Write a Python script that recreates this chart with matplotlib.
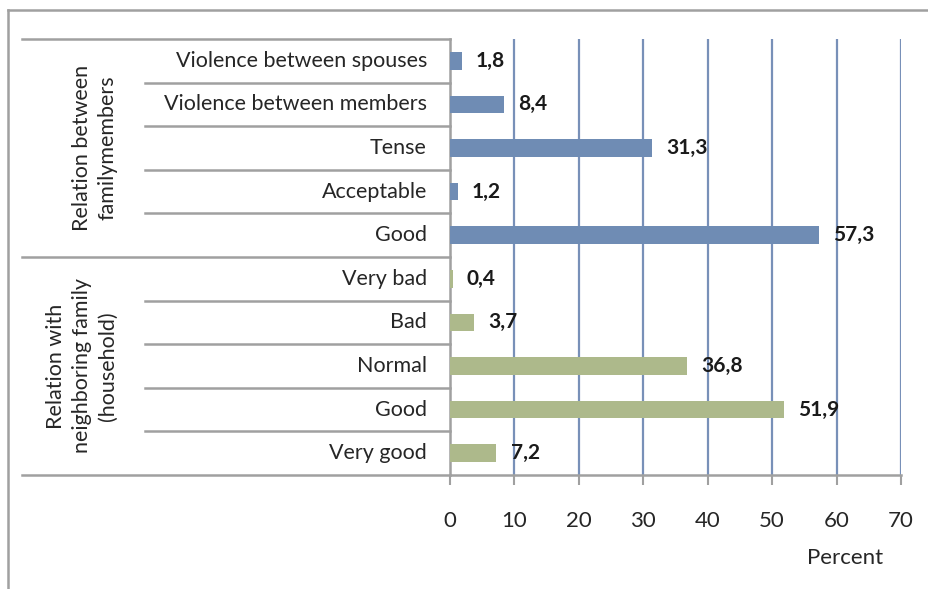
import matplotlib.pyplot as plt
from matplotlib.lines import Line2D

# data, top to bottom
labels = ["Violence between spouses", "Violence between members", "Tense",
          "Acceptable", "Good", "Very bad", "Bad", "Normal", "Good", "Very good"]
values = [1.8, 8.4, 31.3, 1.2, 57.3, 0.4, 3.7, 36.8, 51.9, 7.2]
groups = ["Relation between\nfamilymembers",
          "Relation with\nneighboring family\n(household)"]
group_sizes = [5, 5]
ticks = [0, 10, 20, 30, 40, 50, 60, 70]

blue = "#6f8cb4"
green = "#adb98b"
gray = "#a0a0a0"
colors = [blue] * group_sizes[0] + [green] * group_sizes[1]

plt.rcParams['font.family'] = ['Lato', 'DejaVu Sans']

W, H = 929, 589
fig = plt.figure(figsize=(W / 100, H / 100), dpi=100)
ax = fig.add_axes([450 / W, 1 - 475 / H, 451 / W, 436 / H])

n = len(values)
ypos = list(range(n))
ax.barh(ypos, values, height=0.4, color=colors, zorder=3)
ax.set_ylim(n - 0.5, -0.5)
ax.set_xlim(0, 70)

# value labels
for y, v in zip(ypos, values):
    ax.text(v + 2.2, y, f"{v:.1f}".replace(".", ","), va="center", ha="left",
            fontsize=15, fontweight="bold", color="#1a1a1a", zorder=4)

# grid
for t in ticks[1:]:
    ax.axvline(t, color="#7890b8", lw=1.6, zorder=1)

for s in ["top", "right"]:
    ax.spines[s].set_visible(False)
for s in ["left", "bottom"]:
    ax.spines[s].set_color(gray)
    ax.spines[s].set_linewidth(1.8)

ax.set_xticks(ticks)
ax.set_xticklabels([str(t) for t in ticks], fontsize=16, color="#262626")
ax.tick_params(axis="x", length=7, width=1.5, color=gray, pad=19)
ax.set_yticks([])
ax.set_xlabel("Percent", fontsize=16, color="#262626")
ax.xaxis.set_label_coords((845 - 450) / 451, -(558 - 475) / 436)
ax.xaxis.label.set_va("center")

# category labels and separator lines
x_item = (145 - 450) / 451
x_group = (22 - 450) / 451
for y, lab in zip(ypos, labels):
    ax.text((427 - 450) / 451, y, lab, transform=ax.get_yaxis_transform(),
            ha="right", va="center", fontsize=15.5, color="#262626")

bounds = [-0.5]
for g in group_sizes:
    bounds.append(bounds[-1] + g)
for i in range(n + 1):
    yb = i - 0.5
    x0 = x_group if yb in bounds else x_item
    ax.add_line(Line2D([x0, 0], [yb, yb], transform=ax.get_yaxis_transform(),
                       color=gray, lw=1.8, clip_on=False))

group_x = [95, 82]
for gi, glab in enumerate(groups):
    yc = (bounds[gi] + bounds[gi + 1]) / 2
    ax.text((group_x[gi] - 450) / 451, yc, glab, transform=ax.get_yaxis_transform(),
            rotation=90, ha="center", va="center", fontsize=15.5,
            color="#262626", linespacing=1.35, multialignment="center")

# outer frame (left and top only)
fig.add_artist(Line2D([8 / W, 8 / W], [0, 1 - 10 / H], color=gray, lw=1.8))
fig.add_artist(Line2D([8 / W, 1], [1 - 10 / H, 1 - 10 / H], color=gray, lw=1.8))

fig.savefig("out.png", dpi=100)
